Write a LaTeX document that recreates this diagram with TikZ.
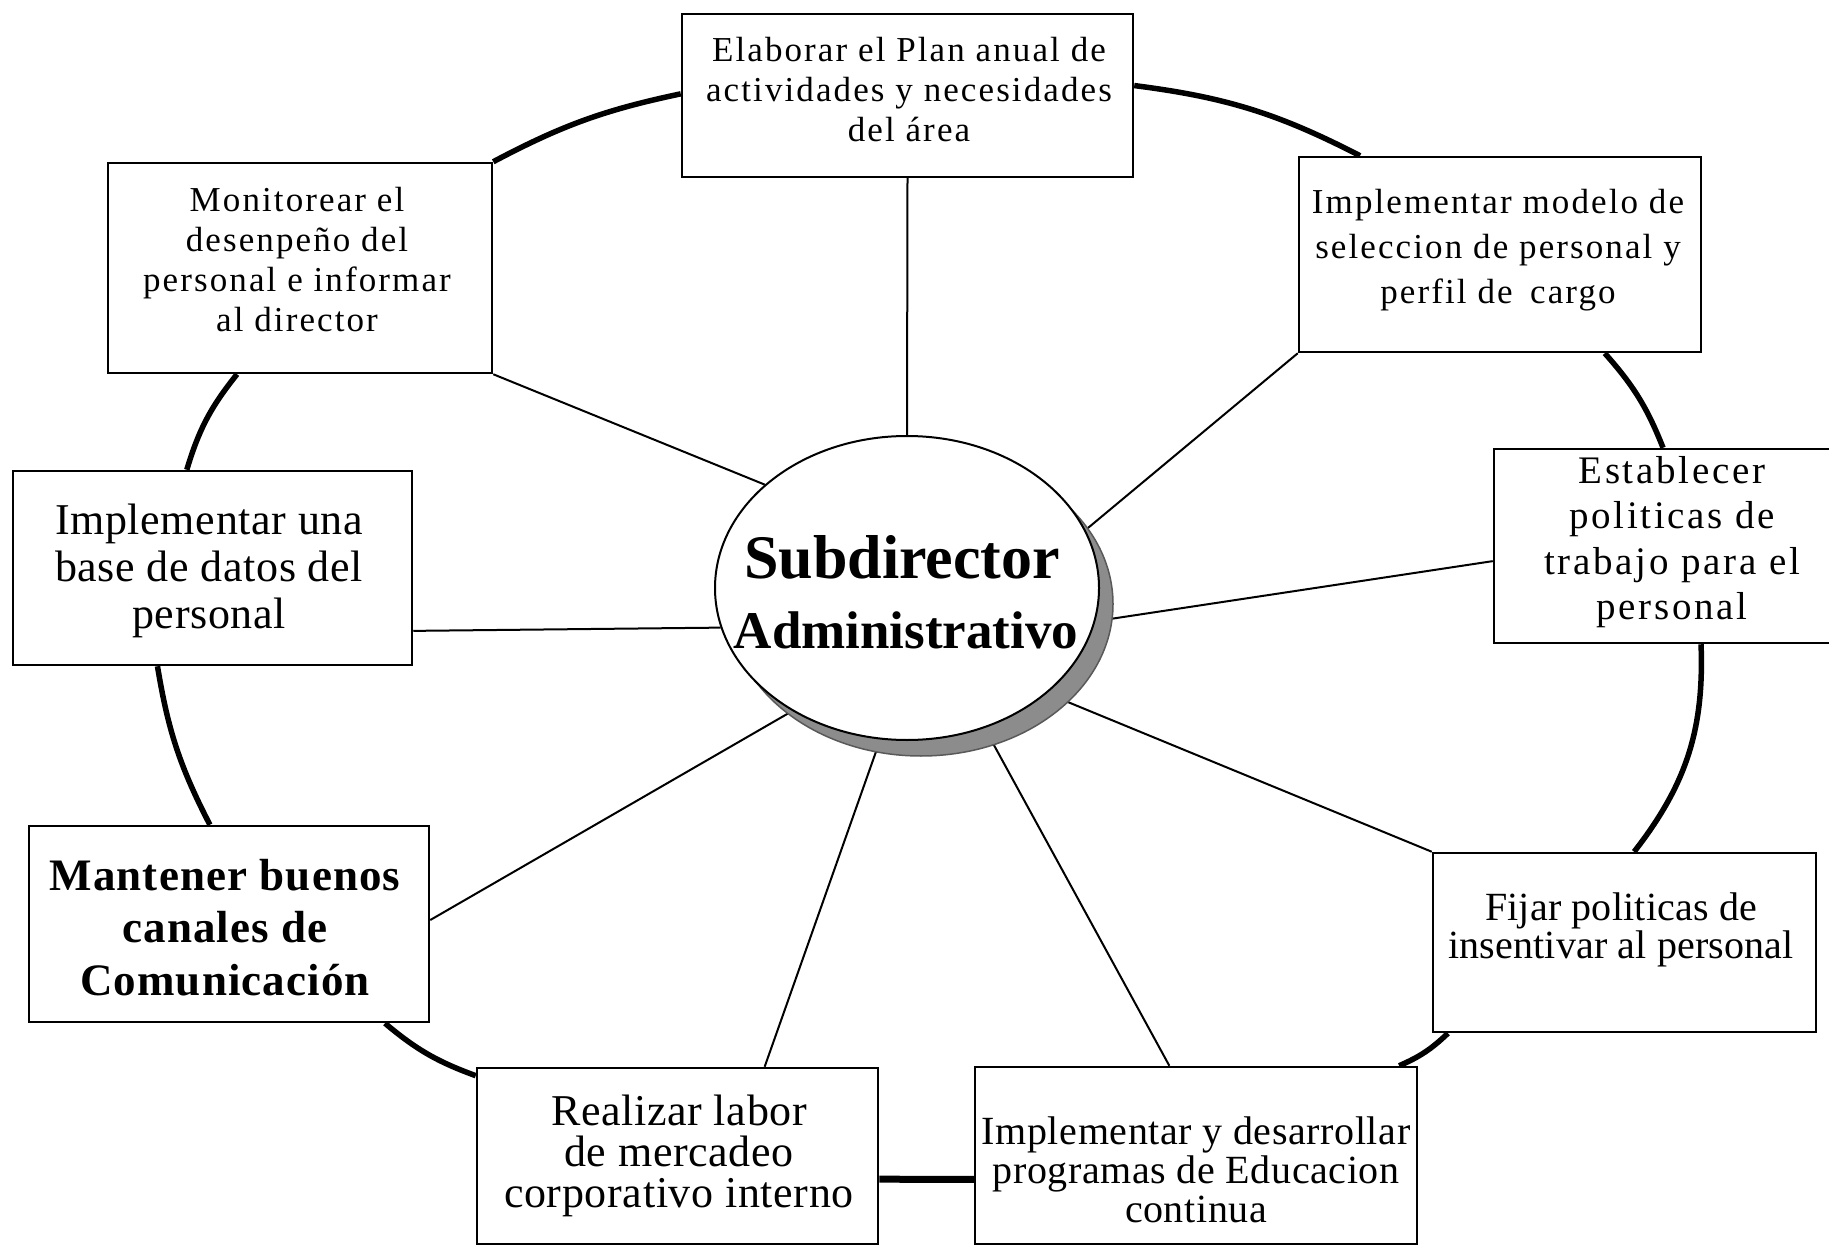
\documentclass[tikz,border=0pt]{standalone}
\usepackage{fontspec}
\setmainfont{Liberation Serif}
\newfontfamily\wideserif[LetterSpace=6]{Liberation Serif}
\newfontfamily\widerserif[LetterSpace=7]{Liberation Serif}
\newfontfamily\looseserif[LetterSpace=1.5]{Liberation Serif}
\newfontfamily\plainserif[LetterSpace=0.5]{Liberation Serif}
\newfontfamily\boldwide[LetterSpace=2.5]{Liberation Serif}
\usetikzlibrary{calc,shapes.geometric}
\pgfdeclarelayer{paper}
\pgfdeclarelayer{background}
\pgfsetlayers{paper,background,main}

\tikzset{
  box/.style={draw, line width=2.5pt, fill=white, rectangle, inner sep=0pt},
  boxtext/.style={align=center, anchor=base, inner sep=0pt},
  spoke/.style={line width=2pt},
  ring/.style={line width=5.5pt},
  hub/.style={ellipse, draw, line width=2pt, fill=white, inner sep=0pt,
    minimum width=384pt, minimum height=304pt},
  hubshadow/.style={fill=black!45, draw=black!65, line width=1.5pt},
}

\begin{document}
\begin{tikzpicture}[x=1pt,y=-1pt]
\useasboundingbox (0,0) rectangle (1829,1246);
\begin{pgfonlayer}{paper}
  \fill[white] (0,0) rectangle (1829,1246);
\end{pgfonlayer}
\clip (0,0) rectangle (1829,1246);

% central ellipse with its shadow
\fill[hubshadow] (921,604) ellipse [x radius=192pt, y radius=152pt];
\node[hub] (sub) at (907,588) {};
\node[boxtext, font=\bfseries\fontsize{62}{70}\selectfont] (sub-a) at (902,578) {Subdirector};
\node[boxtext, font=\bfseries\fontsize{53}{60}\selectfont] (sub-b) at (906,648) {Administrativo};

% task boxes
\node[box, minimum width=451pt, minimum height=163pt] (elab) at (907.5,95.5) {};
\node[box, minimum width=384pt, minimum height=210pt] (mon) at (300,268) {};
\node[box, minimum width=402pt, minimum height=195pt] (mod) at (1500,254.5) {};
\node[box, minimum width=356pt, minimum height=194pt] (est) at (1672,546) {};
\node[box, minimum width=399pt, minimum height=194pt] (una) at (212.5,568) {};
\node[box, minimum width=400pt, minimum height=196pt] (mant) at (229,924) {};
\node[box, minimum width=401pt, minimum height=176pt] (real) at (677.5,1156) {};
\node[box, minimum width=442pt, minimum height=177pt] (impy) at (1196,1155.5) {};
\node[box, minimum width=383pt, minimum height=179pt] (fijar) at (1624.5,942.5) {};

% box texts (anchored on the baseline of their last line)
\node[boxtext, font=\wideserif\fontsize{35}{40}\selectfont] (elab-t) at (909,142)
  {Elaborar el Plan anual de\\actividades y necesidades\\del área};
\node[boxtext, font=\wideserif\fontsize{35}{40}\selectfont] (mon-t) at (297,332)
  {Monitorear el\\desenpeño del\\personal e informar\\al director};
\node[boxtext, font=\wideserif\fontsize{35}{45}\selectfont] (mod-t) at (1498,304)
  {Implementar modelo de\\seleccion de personal y\\perfil de\enspace cargo};
\node[boxtext, font=\widerserif\fontsize{39}{45.5}\selectfont] (est-t) at (1672,619.5)
  {Establecer\\politicas de\\trabajo para el\\personal};
\node[boxtext, font=\looseserif\fontsize{44}{47}\selectfont] (una-t) at (209,628)
  {Implementar una\\base de datos del\\personal};
\node[boxtext, font=\boldwide\bfseries\fontsize{45}{52.5}\selectfont] (mant-t) at (225,995)
  {Mantener buenos\\canales de\\Comunicación};
\node[boxtext, font=\looseserif\fontsize{44}{41}\selectfont] (real-t) at (679,1207)
  {Realizar labor\\de mercadeo\\corporativo interno};
\node[boxtext, font=\looseserif\fontsize{40}{39}\selectfont] (impy-t) at (1196,1222)
  {Implementar y desarrollar\\programas de Educacion\\continua};
\node[boxtext, font=\plainserif\fontsize{40}{38}\selectfont] (fijar-t) at (1621,958)
  {Fijar politicas de\\insentivar al personal};

\begin{pgfonlayer}{background}
  % spokes from the hub to every task
  \draw[spoke] (elab.south) -- (sub.north);
  \draw[spoke] (mon.south east) -- (sub.144.7);
  \draw[spoke] (mod.south west) -- (sub.18.4);
  \draw[spoke] ($(est.north west)!0.577!(est.south west)$) -- (sub.-10);
  \draw[spoke] (fijar.north west) -- (sub.-37.3);
  \draw[spoke] ($(impy.north west)!0.44!(impy.north east)$) -- (sub.-61.8);
  \draw[spoke] ($(real.north west)!0.716!(real.north east)$) -- (sub.-100.9);
  \draw[spoke] ($(mant.north east)!0.48!(mant.south east)$) -- (sub.-133.8);
  \draw[spoke] ($(una.north east)!0.82!(una.south east)$) -- (sub.-168.2);

  % outer ring linking neighbouring tasks
  \draw[ring] (mon.north east) to[bend left=8] ($(elab.north west)!0.49!(elab.south west)$);
  \draw[ring] ($(elab.north east)!0.44!(elab.south east)$) to[bend left=10] ($(mod.north west)!0.154!(mod.north east)$);
  \draw[ring] ($(mod.south west)!0.759!(mod.south east)$) to[bend left=10] ($(est.north west)!0.475!(est.north east)$);
  \draw[ring] ($(est.south west)!0.581!(est.south east)$) to[bend left=20] ($(fijar.north west)!0.525!(fijar.north east)$);
  \draw[ring] ($(fijar.south west)!0.042!(fijar.south east)$) to[bend left=10] ($(impy.north west)!0.957!(impy.north east)$);
  \draw[ring, line width=7pt] ($(impy.north west)!0.633!(impy.south west)$) -- ($(real.north east)!0.63!(real.south east)$);
  \draw[ring] ($(real.north west)!0.05!(real.south west)$) to[bend left=10] ($(mant.south west)!0.8875!(mant.south east)$);
  \draw[ring] ($(mant.north west)!0.4525!(mant.north east)$) to[bend left=9] ($(una.south west)!0.363!(una.south east)$);
  \draw[ring] ($(una.north west)!0.436!(una.north east)$) to[bend left=11] ($(mon.south west)!0.337!(mon.south east)$);
\end{pgfonlayer}
\end{tikzpicture}
\end{document}
